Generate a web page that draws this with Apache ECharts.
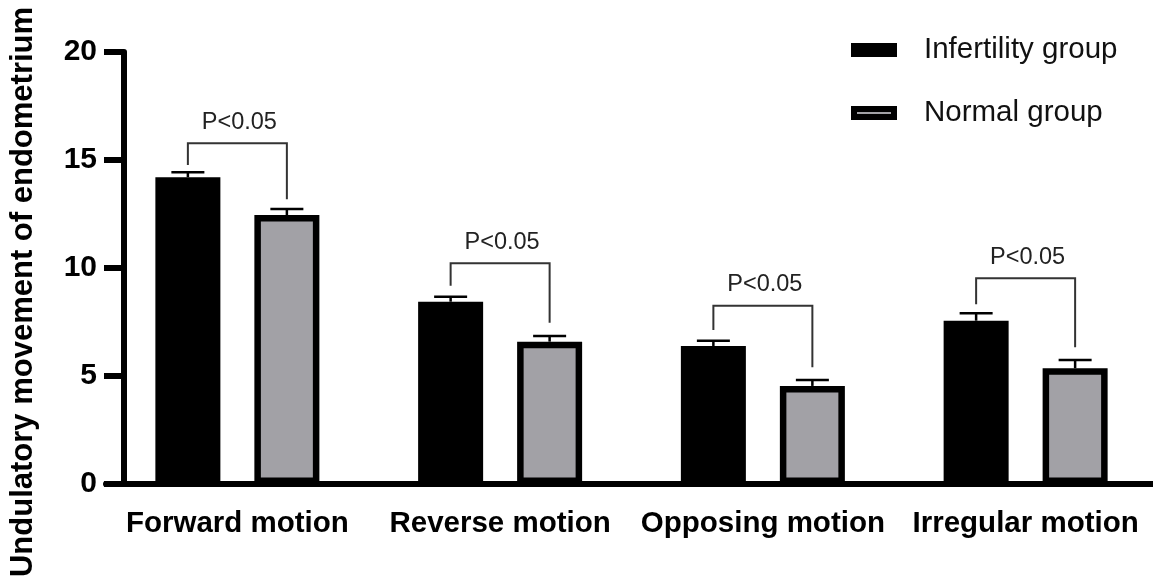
<!DOCTYPE html>
<html>
<head>
<meta charset="utf-8">
<script src="https://cdn.jsdelivr.net/npm/echarts@6/dist/echarts.min.js"></script>
<style>html,body{margin:0;padding:0;background:#fff;}#c{width:1153px;height:583px;}</style>
</head>
<body>
<div id="c"></div>
<script>
const categories = ['Forward motion', 'Reverse motion', 'Opposing motion', 'Irregular motion'];
const infertility = [14.2, 8.44, 6.39, 7.56];
const infertilityErr = [0.23, 0.23, 0.24, 0.34];
const normal = [12.45, 6.59, 4.54, 5.36];
const normalErr = [0.28, 0.26, 0.27, 0.38];
const bracketTop = [15.77, 10.22, 8.25, 9.52];
const bracketLeft = [14.77, 9.18, 7.13, 8.32];
const bracketRight = [13.18, 7.47, 5.4, 6.33];
const pLabels = ['P<0.05', 'P<0.05', 'P<0.05', 'P<0.05'];
const yTicks = [0, 5, 10, 15, 20];

const FONT = 'Liberation Sans, Arial, sans-serif';
const BAR_W = 65;
const GAP = 0.523;
const OFF = BAR_W * (1 + GAP) / 2;

function errRender(sign) {
  return function (params, api) {
    const c = api.value(0), v = api.value(1), e = api.value(2);
    const p0 = api.coord([c, v]);
    const p1 = api.coord([c, v + e]);
    const x = p0[0] + sign * OFF;
    const st = { stroke: '#000', lineWidth: 2.5 };
    return {
      type: 'group',
      children: [
        { type: 'line', shape: { x1: x, y1: p0[1], x2: x, y2: p1[1] }, style: st },
        { type: 'line', shape: { x1: x - 16.5, y1: p1[1], x2: x + 16.5, y2: p1[1] }, style: st }
      ]
    };
  };
}

function bracketRender(params, api) {
  const c = api.value(0);
  const pt = api.coord([c, api.value(1)]);
  const pl = api.coord([c, api.value(2)]);
  const pr = api.coord([c, api.value(3)]);
  const xl = pt[0] - OFF, xr = pt[0] + OFF;
  return {
    type: 'group',
    children: [
      { type: 'polyline', shape: { points: [[xl, pl[1]], [xl, pt[1]], [xr, pt[1]], [xr, pr[1]]] },
        style: { stroke: '#333', lineWidth: 2, fill: null } },
      { type: 'text', x: pt[0] + 2, y: pt[1] - 21,
        style: { text: pLabels[params.dataIndex], font: '23.5px ' + FONT, fill: '#222', align: 'center', verticalAlign: 'middle' } }
    ]
  };
}

const chart = echarts.init(document.getElementById('c'));
chart.setOption({
  animation: false,
  backgroundColor: '#fff',
  grid: { left: 106, right: -4, top: 52, bottom: 99, containLabel: false, outerBoundsMode: 'none' },
  legend: {
    left: 846, top: 30, orient: 'vertical', itemWidth: 40, itemHeight: 8, itemGap: 33,
    icon: 'rect',
    textStyle: { fontFamily: FONT, fontSize: 29.5, color: '#111', lineHeight: 30, padding: [0, 0, 0, 25] },
    data: [
      { name: 'Infertility group', itemStyle: { color: '#000', borderColor: '#000', borderWidth: 6 } },
      { name: 'Normal group', itemStyle: { color: '#a2a1a6', borderColor: '#000', borderWidth: 6 } }
    ]
  },
  xAxis: {
    type: 'category', data: categories,
    axisLine: { lineStyle: { color: '#000', width: 6 } },
    axisTick: { alignWithLabel: true, length: 18, lineStyle: { color: '#000', width: 5 } },
    axisLabel: { interval: 0, fontFamily: FONT, fontSize: 29.5, fontWeight: 'bold', color: '#000', margin: 25 }
  },
  yAxis: {
    type: 'value', min: yTicks[0], max: yTicks[yTicks.length - 1], interval: 5, offset: -18,
    name: 'Undulatory movement of endometrium', nameLocation: 'middle', nameGap: 85,
    nameTextStyle: { fontFamily: FONT, fontSize: 31, fontWeight: 'bold', color: '#000', padding: [0, 48, 0, 0] },
    axisLine: { show: true, lineStyle: { color: '#000', width: 6 } },
    axisTick: { show: true, length: 20, lineStyle: { color: '#000', width: 6 } },
    splitLine: { show: false },
    axisLabel: { fontFamily: FONT, fontSize: 30, fontWeight: 'bold', color: '#000', margin: 27 }
  },
  series: [
    { name: 'Infertility group', type: 'bar', data: infertility, barWidth: BAR_W, barGap: (GAP * 100) + '%',
      itemStyle: { color: '#000', borderColor: '#000', borderWidth: 6.5 }, z: 2 },
    { name: 'Normal group', type: 'bar', data: normal, barWidth: BAR_W,
      itemStyle: { color: '#a2a1a6', borderColor: '#000', borderWidth: 6.5 }, z: 2 },
    { type: 'custom', renderItem: errRender(-1), z: 3,
      data: categories.map((c, i) => [i, infertility[i], infertilityErr[i]]) },
    { type: 'custom', renderItem: errRender(1), z: 3,
      data: categories.map((c, i) => [i, normal[i], normalErr[i]]) },
    { type: 'custom', renderItem: bracketRender, z: 3,
      data: categories.map((c, i) => [i, bracketTop[i], bracketLeft[i], bracketRight[i]]) }
  ]
});
</script>
</body>
</html>
